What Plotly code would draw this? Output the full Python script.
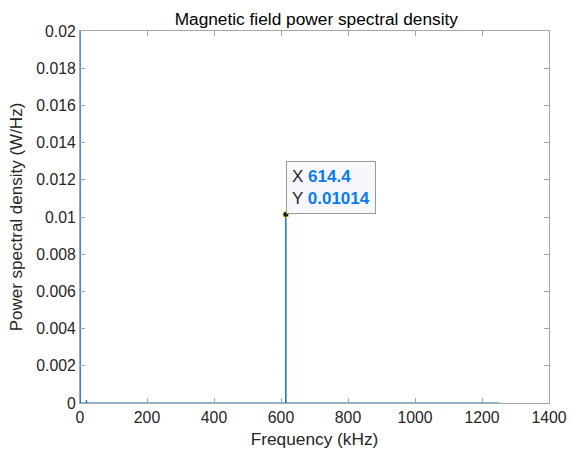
import plotly.graph_objects as go

# Data
freq_khz = [0.0, 1.0, 18.0, 19.2, 20.4, 614.0, 614.4, 614.8, 1252.0]
psd = [0.05, 0.0, 0.0, 0.00015, 0.0, 0.0, 0.01014, 0.0, 0.0]
tip_x = 614.4
tip_y = 0.01014
x_ticks = [0, 200, 400, 600, 800, 1000, 1200, 1400]
y_ticks = [0, 0.002, 0.004, 0.006, 0.008, 0.01, 0.012, 0.014, 0.016, 0.018, 0.02]
y_tick_labels = ["0", "0.002", "0.004", "0.006", "0.008", "0.01", "0.012",
                 "0.014", "0.016", "0.018", "0.02"]

font_family = "Arial, Liberation Sans, sans-serif"
text_col = "#262626"
axis_col = "#a6a6a6"

fig = go.Figure()
fig.add_trace(go.Scatter(x=freq_khz, y=psd, mode="lines",
                         line=dict(color="#0072BD", width=1), hoverinfo="skip",
                         showlegend=False))
fig.add_trace(go.Scatter(x=[tip_x], y=[tip_y], mode="markers",
                         marker=dict(color="#1a1a1a", size=6,
                                     line=dict(color="#f2e35a", width=1)),
                         showlegend=False, hoverinfo="skip"))

fig.add_annotation(
    x=tip_x, y=tip_y, xref="x", yref="y", showarrow=False,
    xanchor="left", yanchor="bottom", xshift=0, yshift=0,
    align="left",
    text=("X <b><span style='color:#0a7cf0'>%s</span></b><br>"
          "Y <b><span style='color:#0a7cf0'>%s</span></b>") % (str(tip_x), "0.01014"),
    font=dict(family=font_family, size=17, color="#262626"),
    bgcolor="#f8f8fc", bordercolor="#9a9a9a", borderwidth=1, borderpad=5,
)

axis_common = dict(
    showgrid=False, zeroline=False, showline=True, linecolor=axis_col,
    linewidth=1, mirror="ticks", ticks="inside", ticklen=5, tickcolor=axis_col,
    tickfont=dict(family=font_family, size=15.8, color=text_col),
    automargin=False,
)

fig.update_xaxes(range=[0, 1400], tickvals=x_ticks,
                 title=dict(text="Frequency (kHz)", standoff=7,
                            font=dict(family=font_family, size=17.3, color=text_col)),
                 **axis_common)
fig.update_yaxes(range=[0, 0.02], tickvals=y_ticks, ticktext=y_tick_labels,
                 title=dict(text="Power spectral density (W/Hz)", standoff=9,
                            font=dict(family=font_family, size=17, color=text_col)),
                 **axis_common)

fig.update_layout(
    width=571, height=450,
    margin=dict(l=80, r=22, t=31, b=47, autoexpand=False),
    paper_bgcolor="white", plot_bgcolor="white",
    title=dict(text="Magnetic field power spectral density", x=0.554, xanchor="center",
               y=1 - 19 / 450, yanchor="middle",
               font=dict(family=font_family, size=17.3, color="#000000")),
)

fig.write_html("out.html")
